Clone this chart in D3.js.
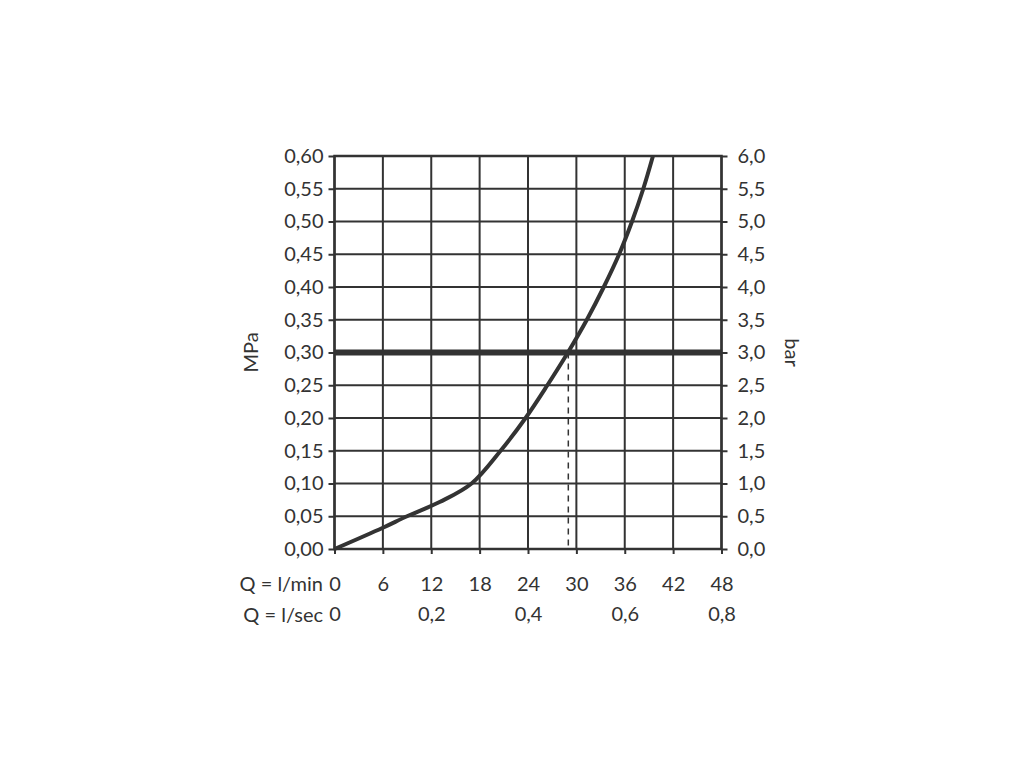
<!DOCTYPE html>
<html>
<head>
<meta charset="utf-8">
<script src="https://cdn.jsdelivr.net/npm/d3@7"></script>
<style>
  body { margin: 0; background: #fff; }
  svg text { font-family: "Lato", "Noto Sans", sans-serif; fill: #333; }
</style>
</head>
<body>
<svg width="1024" height="768"></svg>
<script>
// flow in l/min vs pressure in MPa
var flow     = [0, 6, 9, 13.1, 17, 20.6, 23.7, 26.4, 28.95, 31.3, 33.4, 35.3, 36.9, 38.3, 39.5];
var pressure = [0, 0.0325, 0.05, 0.072, 0.10, 0.15, 0.20, 0.25, 0.30, 0.35, 0.40, 0.45, 0.50, 0.55, 0.60];
var minTicks = [0, 6, 12, 18, 24, 30, 36, 42, 48];
var secTicks = [0, 0.2, 0.4, 0.6, 0.8];
var mpaTicks = [0, 0.05, 0.10, 0.15, 0.20, 0.25, 0.30, 0.35, 0.40, 0.45, 0.50, 0.55, 0.60];
var barTicks = [0, 0.5, 1, 1.5, 2, 2.5, 3, 3.5, 4, 4.5, 5, 5.5, 6];
var refPressure = 0.30;
var refFlow = 29.0;

var pLeft = 334.5, pRight = 721.5, pTop = 156, pBottom = 549;
var ink = "#333";
var fs = 20;

var x = d3.scaleLinear().domain([0, 48]).range([pLeft, pRight]);
var xSec = d3.scaleLinear().domain([0, 0.8]).range([pLeft, pRight]);
var y = d3.scaleLinear().domain([0, 0.6]).range([pBottom, pTop]);
var yBar = d3.scaleLinear().domain([0, 6]).range([pBottom, pTop]);

var comma = function(digits) {
    return function(d) { return d3.format("." + digits + "f")(d).replace(".", ","); };
};

var svg = d3.select("svg");

// grid
svg.append("g").selectAll("line")
    .data(minTicks)
    .enter().append("line")
    .attr("x1", function(d) { return x(d); })
    .attr("x2", function(d) { return x(d); })
    .attr("y1", pTop).attr("y2", pBottom)
    .attr("stroke", ink).attr("stroke-width", 2);

svg.append("g").selectAll("line")
    .data(mpaTicks)
    .enter().append("line")
    .attr("x1", pLeft).attr("x2", pRight)
    .attr("y1", function(d) { return y(d); })
    .attr("y2", function(d) { return y(d); })
    .attr("stroke", ink).attr("stroke-width", 2);

// border
svg.append("rect")
    .attr("x", pLeft).attr("y", pTop)
    .attr("width", pRight - pLeft).attr("height", pBottom - pTop)
    .attr("fill", "none").attr("stroke", ink).attr("stroke-width", 2.5);

// axes
function styleAxis(g) {
    g.select(".domain").remove();
    g.selectAll(".tick line").attr("stroke", ink).attr("stroke-width", 2);
    g.selectAll(".tick text").style("font-size", fs + "px").attr("fill", ink);
}

svg.append("g")
    .attr("transform", "translate(" + pLeft + ",0)")
    .call(d3.axisLeft(y).tickValues(mpaTicks).tickFormat(comma(2)).tickSize(6).tickPadding(5))
    .call(styleAxis);

svg.append("g")
    .attr("transform", "translate(" + pRight + ",0)")
    .call(d3.axisRight(yBar).tickValues(barTicks).tickFormat(comma(1)).tickSize(6).tickPadding(10))
    .call(styleAxis);

svg.append("g")
    .attr("transform", "translate(0," + pBottom + ")")
    .call(d3.axisBottom(x).tickValues(minTicks).tickFormat(d3.format("d")).tickSize(5).tickPadding(23))
    .call(styleAxis);

svg.append("g")
    .attr("transform", "translate(0," + pBottom + ")")
    .call(d3.axisBottom(xSec).tickValues(secTicks).tickFormat(function(d) { return d === 0 ? "0" : comma(1)(d); }).tickSize(0).tickPadding(58))
    .call(styleAxis);

svg.append("text").attr("x", 323).attr("y", 591)
    .attr("text-anchor", "end").style("font-size", fs + "px").text("Q = l/min");
svg.append("text").attr("x", 323).attr("y", 622)
    .attr("text-anchor", "end").style("font-size", fs + "px").text("Q = l/sec");

svg.append("text")
    .attr("transform", "translate(258," + y(0.3) + ") rotate(-90)")
    .attr("text-anchor", "middle").style("font-size", fs + "px").text("MPa");
svg.append("text")
    .attr("transform", "translate(785," + y(0.3) + ") rotate(90)")
    .attr("text-anchor", "middle").style("font-size", fs + "px").text("bar");

// reference pressure line
svg.append("line")
    .attr("x1", pLeft).attr("x2", pRight)
    .attr("y1", y(refPressure)).attr("y2", y(refPressure))
    .attr("stroke", ink).attr("stroke-width", 6);

// dashed drop line
svg.append("line")
    .attr("x1", x(refFlow)).attr("x2", x(refFlow))
    .attr("y1", y(refPressure)).attr("y2", pBottom)
    .attr("stroke", ink).attr("stroke-width", 1.5)
    .attr("stroke-dasharray", "6,5");

// curve
var pts = flow.map(function(f, i) { return [f, pressure[i]]; });
svg.append("path")
    .datum(pts)
    .attr("fill", "none")
    .attr("stroke", ink)
    .attr("stroke-width", 4)
    .attr("d", d3.line()
        .x(function(d) { return x(d[0]); })
        .y(function(d) { return y(d[1]); })
        .curve(d3.curveCatmullRom.alpha(0.5)));
</script>
</body>
</html>
